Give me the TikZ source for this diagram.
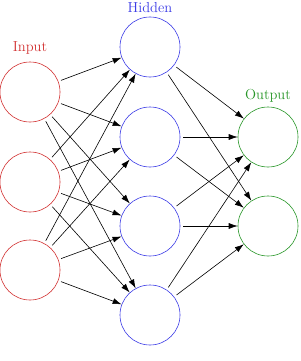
\documentclass[tikz,border=0pt]{standalone}
\usepackage{fontspec}
\usetikzlibrary{arrows.meta}
\definecolor{inred}{RGB}{210,50,50}
\definecolor{hidblue}{RGB}{60,60,230}
\definecolor{outgreen}{RGB}{40,150,40}
\begin{document}
\begin{tikzpicture}[x=1pt, y=-1pt, line cap=round, line join=round, >={Latex[length=9pt,width=6pt]}]
		% Canvas (1pt per pixel, y downwards)
		\useasboundingbox (0,0) rectangle (300,361);
		
		% Styles
		\tikzset{neuron/.style={circle, draw, minimum size=60pt, inner sep=0pt, line width=0.6pt},
			layername/.style={font=\fontsize{14.5}{17}\selectfont, inner sep=0pt},
			synapse/.style={->, line width=0.6pt, shorten <=3pt}}
		
		% Column positions
		\def\xin{30}
		\def\xhid{150}
		\def\xout{268}
		
		% Neurons
		\foreach \y [count=\i] in {92,182,270}
			\node[neuron, draw=inred] (I\i) at (\xin,\y) {};
		\foreach \y [count=\i] in {47,137,226,315}
			\node[neuron, draw=hidblue] (H\i) at (\xhid,\y) {};
		\foreach \y [count=\i] in {137,226}
			\node[neuron, draw=outgreen] (O\i) at (\xout,\y) {};
		
		% Layer names
		\node[layername, text=inred] (lin) at (\xin,48) {Input};
		\node[layername, text=hidblue] (lhid) at (\xhid,8) {Hidden};
		\node[layername, text=outgreen] (lout) at (\xout,96) {Output};
		
		% Connections
		\foreach \i in {1,...,3}
			\foreach \j in {1,...,4}
				\draw[synapse] (I\i) -- (H\j);
		\foreach \j in {1,...,4}
			\foreach \k in {1,2}
				\draw[synapse] (H\j) -- (O\k);
	\end{tikzpicture}
\end{document}
